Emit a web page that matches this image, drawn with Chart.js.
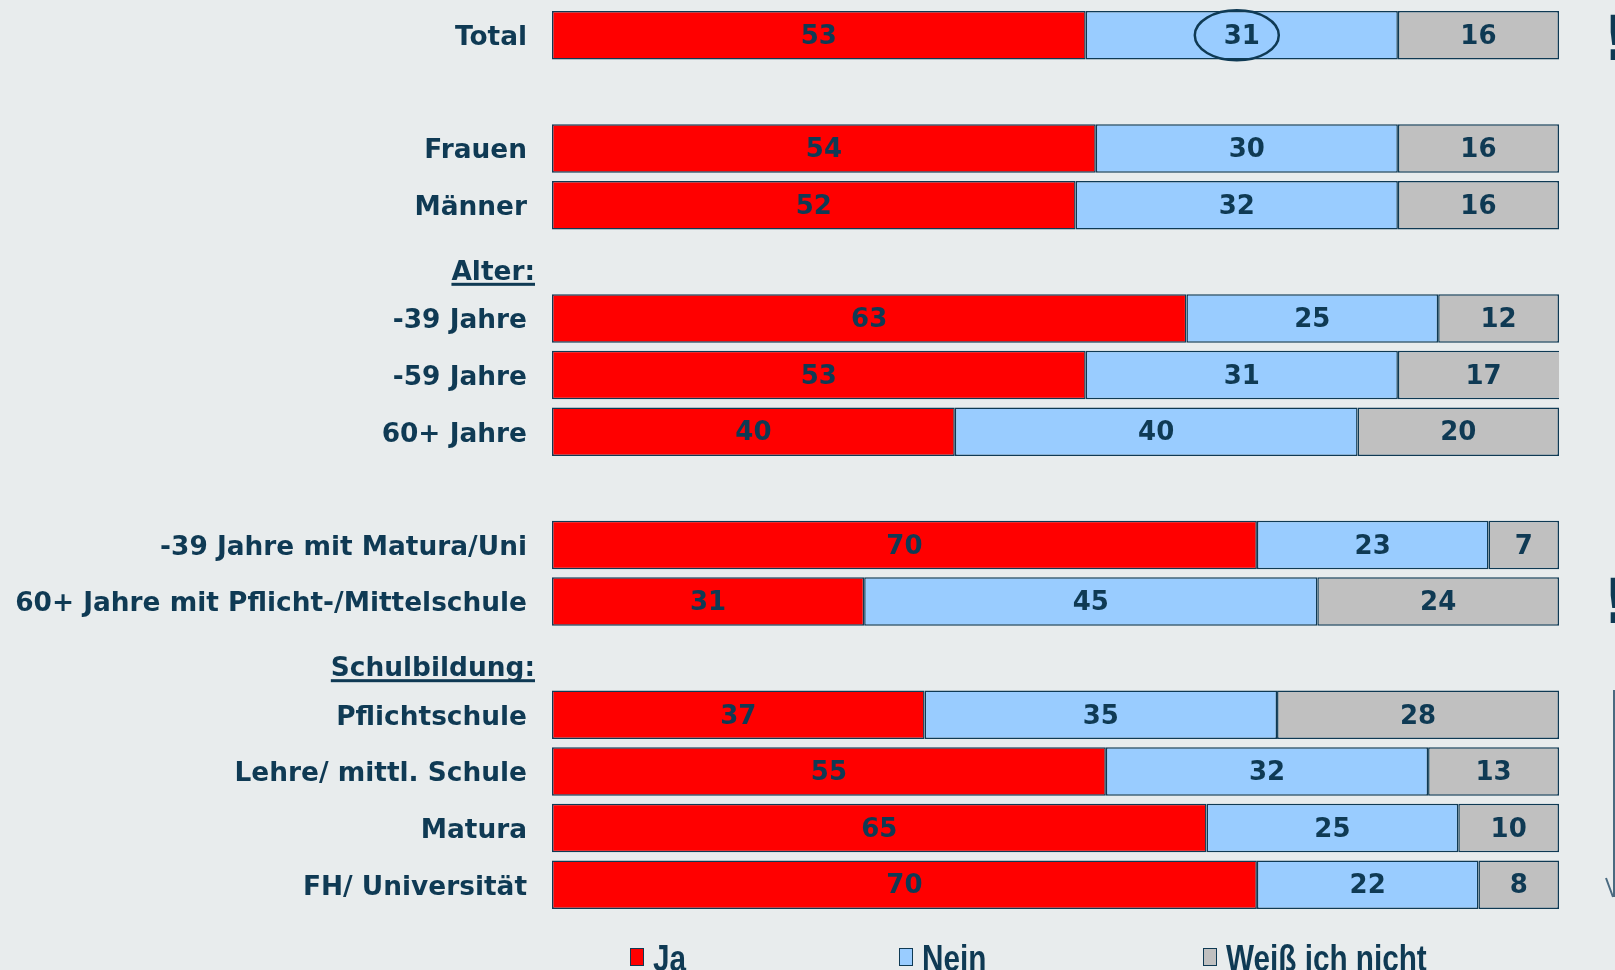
<!DOCTYPE html>
<html>
<head>
<meta charset="UTF-8">
<title>Ja / Nein</title>
<script src="https://cdn.jsdelivr.net/npm/chart.js@4"></script>
<style>
  body { margin: 0; background: #e8eced; }
  .wrap { position: relative; width: 1615px; height: 970px; overflow: hidden; }
  .legend { position: absolute; top: 941px; height: 36px; line-height: 36px; color: #0f3a54; white-space: nowrap; }
  .legend .box { position: absolute; left: 0; top: 7px; width: 12px; height: 16px; border: 1.5px solid #0f3a54; }
  .legend .txt { position: absolute; left: 23px; top: 0; font-family: 'Liberation Sans', Arial, sans-serif; font-weight: bold; font-size: 36px; transform: scaleX(0.825); transform-origin: left center; }
</style>
</head>
<body>
<div class="wrap">
  <canvas id="chart" width="1615" height="970"></canvas>
  <div class="legend" style="left: 630px;"><span class="box" style="background:#ff0000"></span><span class="txt">Ja</span></div>
  <div class="legend" style="left: 899px;"><span class="box" style="background:#99ccff"></span><span class="txt">Nein</span></div>
  <div class="legend" style="left: 1203px;"><span class="box" style="background:#c0c0c0"></span><span class="txt">Weiß ich nicht</span></div>
</div>
<script>
const categories = ['Total', '', 'Frauen', 'Männer', 'Alter:', '-39 Jahre', '-59 Jahre', '60+ Jahre', '',
  '-39 Jahre mit Matura/Uni', '60+ Jahre mit Pflicht-/Mittelschule', 'Schulbildung:',
  'Pflichtschule', 'Lehre/ mittl. Schule', 'Matura', 'FH/ Universität'];
const headers = ['Alter:', 'Schulbildung:'];
const ja    = [53, null, 54, 52, null, 63, 53, 40, null, 70, 31, null, 37, 55, 65, 70];
const nein  = [31, null, 30, 32, null, 25, 31, 40, null, 23, 45, null, 35, 32, 25, 22];
const weiss = [16, null, 16, 16, null, 12, 17, 20, null, 7, 24, null, 28, 13, 10, 8];

const navy = '#0f3a54';
const labelFont = 'bold 26px "DejaVu Sans", Verdana, sans-serif';

// numbers in the bars, the ring round "31", the section headers and the bits at the right edge
const extras = {
  id: 'extras',
  afterDatasetsDraw(chart) {
    const ctx = chart.ctx;
    ctx.save();
    ctx.font = labelFont;
    ctx.fillStyle = navy;
    ctx.textAlign = 'center';
    ctx.textBaseline = 'middle';
    chart.data.datasets.forEach((ds, i) => {
      chart.getDatasetMeta(i).data.forEach((bar, j) => {
        if (ds.data[j] == null) return;
        const p = bar.getCenterPoint();
        ctx.fillText(ds.data[j], p.x, p.y + 2);
      });
    });
    // ring round Nein of Total
    const p = chart.getDatasetMeta(1).data[0].getCenterPoint();
    ctx.strokeStyle = navy;
    ctx.lineWidth = 2.5;
    ctx.beginPath();
    ctx.ellipse(p.x - 5, p.y, 42, 25, 0, 0, Math.PI * 2);
    ctx.stroke();

    // headers
    const y = chart.scales.y;
    ctx.font = 'bold 26.4px "DejaVu Sans", Verdana, sans-serif';
    ctx.textAlign = 'right';
    ctx.textBaseline = 'alphabetic';
    headers.forEach(h => {
      const yy = y.getPixelForValue(categories.indexOf(h)) + 18;
      const w = ctx.measureText(h).width;
      ctx.fillText(h, 535, yy);
      ctx.fillRect(535 - w, yy + 3, w, 3);
    });

    // partly cut marks at the right edge
    ctx.textAlign = 'left';
    ctx.font = 'bold 62px "DejaVu Sans", sans-serif';
    ctx.fillText('!', 1602, 60);
    ctx.fillText('!', 1602, 623);
    ctx.strokeStyle = '#4a6a80';
    ctx.lineWidth = 2;
    ctx.beginPath();
    ctx.moveTo(1614, 690);
    ctx.lineTo(1614, 897);
    ctx.moveTo(1606, 878);
    ctx.lineTo(1613, 897);
    ctx.stroke();
    ctx.restore();
  }
};

function makeSet(label, data, color) {
  return {
    label: label,
    data: data,
    backgroundColor: color,
    borderColor: navy,
    borderWidth: 1.5,
    borderSkipped: false,
    barPercentage: 0.855,
    categoryPercentage: 1,
    clip: 0
  };
}

new Chart(document.getElementById('chart'), {
  type: 'bar',
  data: {
    labels: categories,
    datasets: [
      makeSet('Ja', ja, '#ff0000'),
      makeSet('Nein', nein, '#99ccff'),
      makeSet('Weiß ich nicht', weiss, '#c0c0c0')
    ]
  },
  options: {
    indexAxis: 'y',
    responsive: false,
    animation: false,
    layout: { padding: { top: 7, bottom: 57, right: 56, left: 0 } },
    plugins: { legend: { display: false }, tooltip: { enabled: false } },
    scales: {
      x: { stacked: true, min: 0, max: 100, display: false },
      y: {
        stacked: true,
        grid: { display: false, drawTicks: false },
        border: { display: false },
        afterFit(scale) {
          scale.width = 552;
          scale.paddingTop = 0;
          scale.paddingBottom = 0;
        },
        ticks: {
          padding: 25,
          labelOffset: 3,
          color: navy,
          font: { family: '"DejaVu Sans", Verdana, sans-serif', size: 26.4, weight: 'bold' },
          callback(v) {
            const l = categories[v];
            return headers.includes(l) ? '' : l;
          }
        }
      }
    }
  },
  plugins: [extras]
});
</script>
</body>
</html>
